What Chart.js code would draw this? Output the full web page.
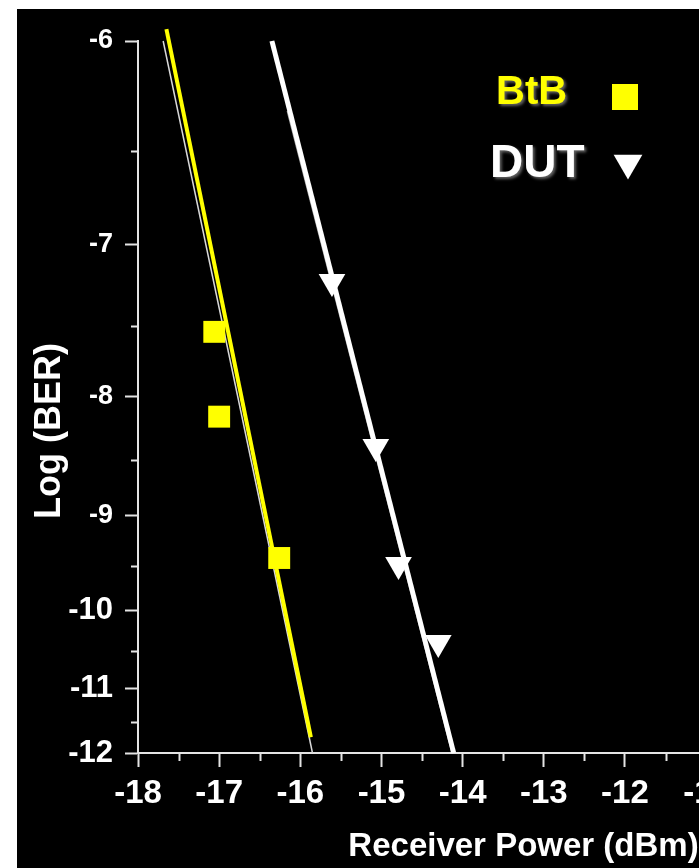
<!DOCTYPE html>
<html>
<head>
<meta charset="utf-8">
<title>BER vs receiver power</title>
<script src="https://cdn.jsdelivr.net/npm/chart.js@4.4.0/dist/chart.umd.min.js"></script>
<style>
    html, body { margin: 0; padding: 0; background: #fff; overflow: hidden; }
    #wrap { position: absolute; left: 17px; top: 9px; width: 920px; height: 859px; background: #000; }
</style>
</head>
<body>
<div id="wrap"><canvas id="ber"></canvas></div>
<script>
// measured points: receiver power (dBm) / log10(BER)
var btbPower = [-17.06, -17.00, -16.26];
var btbLogBer = [-7.54, -8.15, -9.42];
var dutPower = [-15.61, -15.07, -14.79, -14.30];
var dutLogBer = [-7.22, -8.39, -9.49, -10.39];

// fitted lines (end points) plus the faint guide lines beside them
var btbFitPower = [-17.65, -15.87];
var btbFitLogBer = [-5.95, -11.74];
var btbGuidePower = [-17.69, -15.85];
var btbGuideLogBer = [-6, -12];
var dutFitPower = [-16.35, -14.11];
var dutFitLogBer = [-6.0, -12];
var dutGuidePower = [-16.16, -14.13];
var dutGuideLogBer = [-6.31, -12];

// axis ticks
var xTicks = [-18, -17, -16, -15, -14, -13, -12, -11, -10, -9];
var xMinor = [-17.5, -16.5, -15.5, -14.5, -13.5, -12.5, -11.5, -10.5, -9.5];
var yTicks = [-6, -7, -8, -9, -10, -11, -12];
var yMinor = [-6.5, -7.5, -8.5, -9.5, -10.5, -11.5];

var FONT = "'Liberation Sans', Arial, Helvetica, sans-serif";
var AXIS = "#e4e4e4";

// BER paper: axis is linear in 1/|log BER|
function berAxis(v) { return -1 / v; }

function pairs(xs, ys) {
    return xs.map(function (x, i) { return { x: x, y: berAxis(ys[i]) }; });
}

// short minor tick marks between the labelled ones
var minorTicks = {
    id: "minorTicks",
    afterDraw: function (chart) {
        var ctx = chart.ctx, xs = chart.scales.x, ys = chart.scales.y;
        ctx.save();
        ctx.strokeStyle = AXIS;
        ctx.lineWidth = 2;
        ctx.beginPath();
        yMinor.forEach(function (v) {
            var py = Math.round(ys.getPixelForValue(berAxis(v))) + 0.5;
            ctx.moveTo(ys.right - 7, py);
            ctx.lineTo(ys.right, py);
        });
        xMinor.forEach(function (v) {
            var px = Math.round(xs.getPixelForValue(v)) + 0.5;
            ctx.moveTo(px, xs.top);
            ctx.lineTo(px, xs.top + 8);
        });
        ctx.stroke();
        ctx.restore();
    }
};

// y title and the text-before-marker legend
var annotations = {
    id: "annotations",
    afterDraw: function (chart) {
        var ctx = chart.ctx;
        ctx.save();
        // y axis title
        ctx.translate(33, 422);
        ctx.rotate(-Math.PI / 2);
        ctx.font = "bold 36px " + FONT;
        ctx.fillStyle = "#fff";
        ctx.textAlign = "center";
        ctx.textBaseline = "middle";
        ctx.fillText("Log (BER)", 0, 0);
        ctx.restore();

        ctx.save();
        ctx.textAlign = "left";
        ctx.textBaseline = "alphabetic";
        ctx.shadowColor = "rgba(110,110,110,0.9)";
        ctx.shadowBlur = 3;
        ctx.shadowOffsetX = 2;
        ctx.shadowOffsetY = 2;
        ctx.font = "bold 40px " + FONT;
        ctx.fillStyle = "#ffff00";
        ctx.fillText("BtB", 479, 95);
        ctx.font = "bold 46px " + FONT;
        ctx.fillStyle = "#fff";
        ctx.fillText("DUT", 473, 168);
        ctx.restore();

        ctx.save();
        ctx.fillStyle = "#ffff00";
        Chart.helpers.drawPoint(ctx, { pointStyle: "rect", radius: 18.4, rotation: 0, borderWidth: 0 }, 608, 88);
        ctx.fillStyle = "#fff";
        Chart.helpers.drawPoint(ctx, { pointStyle: "triangle", radius: 16.6, rotation: 180, borderWidth: 0 }, 611, 154);
        ctx.restore();
    }
};

var fitLine = function (label, data, color, width) {
    return {
        type: "line",
        label: label,
        data: data,
        borderColor: color,
        borderWidth: width,
        pointRadius: 0,
        showLine: true,
        fill: false,
        clip: false
    };
};

new Chart(document.getElementById("ber"), {
    type: "scatter",
    data: {
        datasets: [
            {
                label: "BtB",
                data: pairs(btbPower, btbLogBer),
                pointStyle: "rect",
                pointRadius: 15.5,
                pointBackgroundColor: "#ffff00",
                pointBorderWidth: 0,
                clip: false
            },
            {
                label: "DUT",
                data: pairs(dutPower, dutLogBer),
                pointStyle: "triangle",
                pointRotation: 180,
                pointRadius: 15.4,
                pointBackgroundColor: "#fff",
                pointBorderWidth: 0,
                clip: false
            },
            fitLine("BtB fit", pairs(btbFitPower, btbFitLogBer), "#ffff00", 4),
            fitLine("DUT fit", pairs(dutFitPower, dutFitLogBer), "#fff", 5),
            fitLine("BtB guide", pairs(btbGuidePower, btbGuideLogBer), "#d8d8d8", 1.5),
            fitLine("DUT guide", pairs(dutGuidePower, dutGuideLogBer), "#9a9a9a", 1.5)
        ]
    },
    options: {
        responsive: true,
        maintainAspectRatio: false,
        animation: false,
        layout: { padding: { top: 32, right: 28, left: 0, bottom: 0 } },
        plugins: {
            legend: { display: false },
            tooltip: { enabled: false }
        },
        scales: {
            x: {
                type: "linear",
                min: -18,
                max: -8.5,
                afterBuildTicks: function (scale) {
                    scale.ticks = xTicks.map(function (v) { return { value: v }; });
                },
                afterFit: function (scale) { scale.height = 115; },
                grid: { drawOnChartArea: false, color: AXIS, tickLength: 14, tickWidth: 2 },
                border: { color: AXIS, width: 2 },
                ticks: {
                    color: "#fff",
                    padding: 7,
                    autoSkip: false,
                    maxRotation: 0,
                    font: { family: FONT, size: 33, weight: "bold" }
                },
                title: {
                    display: true,
                    text: "Receiver Power (dBm)",
                    color: "#fff",
                    padding: { top: 0, bottom: 1 },
                    font: { family: FONT, size: 33, weight: "bold" }
                }
            },
            y: {
                type: "linear",
                min: berAxis(-12),
                max: berAxis(-6),
                afterBuildTicks: function (scale) {
                    scale.ticks = yTicks.map(function (v) { return { value: berAxis(v) }; });
                },
                afterFit: function (scale) { scale.width = 121; },
                grid: { drawOnChartArea: false, color: AXIS, tickLength: 13, tickWidth: 2 },
                border: { color: AXIS, width: 2 },
                ticks: {
                    color: "#fff",
                    padding: 12,
                    autoSkip: false,
                    callback: function (value) { return String(Math.round(-1 / value)); },
                    font: function (c) {
                        var v = c.tick ? Math.round(-1 / c.tick.value) : -6;
                        return { family: FONT, weight: "bold", size: v <= -10 ? 31 : 27 };
                    }
                }
            }
        }
    },
    plugins: [minorTicks, annotations]
});
</script>
</body>
</html>
